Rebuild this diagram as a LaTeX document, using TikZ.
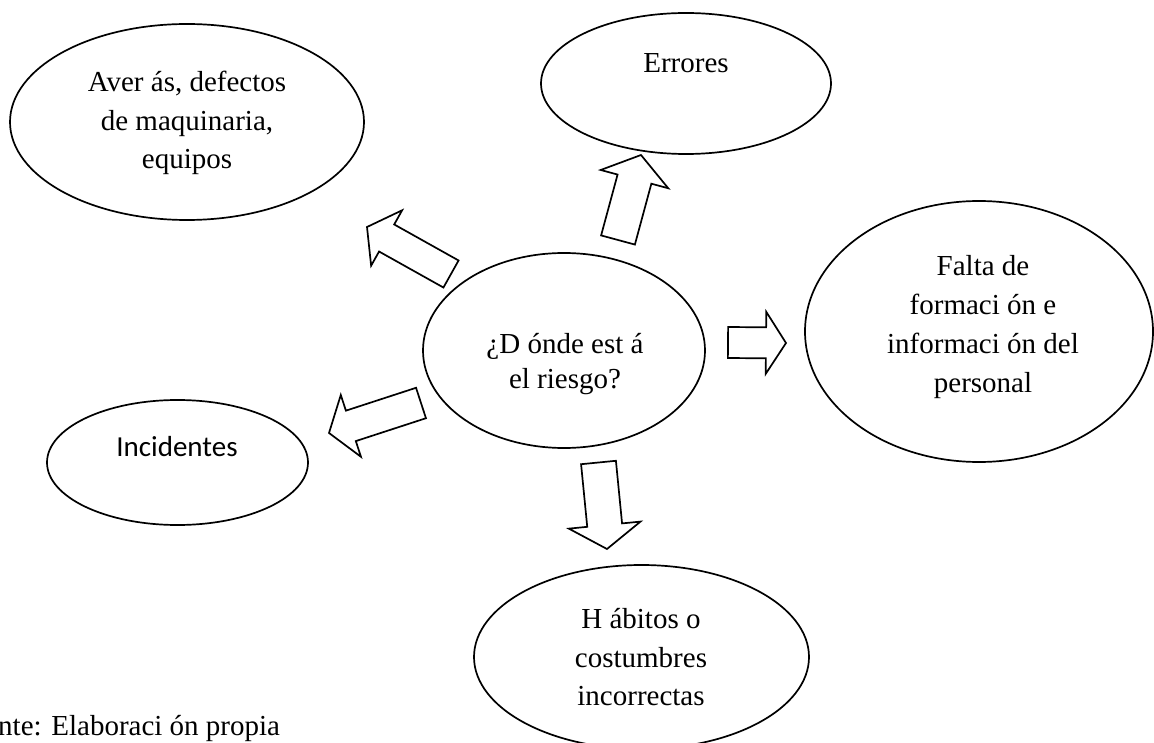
\documentclass[tikz,border=0pt]{standalone}
\usepackage{fontspec}
\setmainfont{Liberation Serif}
\newfontfamily\carlito{Carlito}
\usepackage{tikz}
\usetikzlibrary{shapes.geometric,positioning,calc}

% hollow block arrow: from, to, shaft half width, head half width, head length
\newcommand{\blockarrow}[5]{%
  \coordinate (hb) at ($(#2)!#5!(#1)$);
  \draw[blockline] ($(#1)!#3!90:(#2)$) -- ($(hb)!#3!90:(#2)$) -- ($(hb)!#4!90:(#2)$) -- (#2)
    -- ($(hb)!#4!-90:(#2)$) -- ($(hb)!#3!-90:(#2)$) -- ($(#1)!#3!-90:(#2)$) -- cycle;
}

\begin{document}
\begin{tikzpicture}[x=1pt, y=-1pt,
    bubble/.style={ellipse, draw, line width=1.7pt, inner sep=0pt},
    txt/.style={inner sep=0pt, align=center, font=\fontsize{29}{38.5}\selectfont},
    blockline/.style={line width=1.7pt, line join=miter, draw, fill=white}
  ]
    \useasboundingbox (0,0) rectangle (1154,743);

    \node[bubble, minimum width=354pt, minimum height=196pt] (averias) at (187,122) {};
    \node[txt] (averias-t) at (187,123) {Aver ás, defectos\\de maquinaria,\\equipos};

    \node[bubble, minimum width=290pt, minimum height=141pt] (errores) at (686,83.5) {};
    \node[txt] (errores-t) at (686,63.5) {Errores};

    \node[bubble, minimum width=282pt, minimum height=195pt] (riesgo) at (564,350.5) {};
    \node[txt, font=\fontsize{29}{35}\selectfont] (riesgo-t) at (565,364) {¿D ónde est á\\el riesgo?};

    \node[bubble, minimum width=348pt, minimum height=261pt] (falta) at (979,331.5) {};
    \node[txt, font=\fontsize{29}{39.3}\selectfont] (falta-t) at (983,327) {Falta de\\formaci ón e\\informaci ón del\\personal};

    \node[bubble, minimum width=261pt, minimum height=125pt] (incidentes) at (177.5,462.5) {};
    \node[txt, font=\carlito\fontsize{29}{35}\selectfont] (incidentes-t) at (177,447) {Incidentes};

    \node[bubble, minimum width=335pt, minimum height=184pt] (habitos) at (641.5,657) {};
    \node[txt] (habitos-t) at (641,657.5) {H ábitos o\\costumbres\\incorrectas};

    \node[txt, anchor=base west] (fuente) at (-2,735) {nte: Elaboraci ón propia};

    % arrow ends
    \coordinate (from-averias) at (451,274);
    \coordinate (to-averias) at (367,227);
    \coordinate (from-errores) at (618,240);
    \coordinate (to-errores) at (641,155);
    \coordinate (from-falta) at (728,342.5);
    \coordinate (to-falta) at (786,343);
    \coordinate (from-incidentes) at (421,403);
    \coordinate (to-incidentes) at (329,433);
    \coordinate (from-habitos) at (598.5,462.5);
    \coordinate (to-habitos) at (607,549);

    \blockarrow{from-averias}{to-averias}{15.5pt}{31.75pt}{22.5pt}
    \blockarrow{from-errores}{to-errores}{17.5pt}{35pt}{25pt}
    \blockarrow{from-falta}{to-falta}{15.5pt}{31pt}{20pt}
    \blockarrow{from-incidentes}{to-incidentes}{16pt}{32.5pt}{23pt}
    \blockarrow{from-habitos}{to-habitos}{17.5pt}{36pt}{24pt}
  \end{tikzpicture}
\end{document}
